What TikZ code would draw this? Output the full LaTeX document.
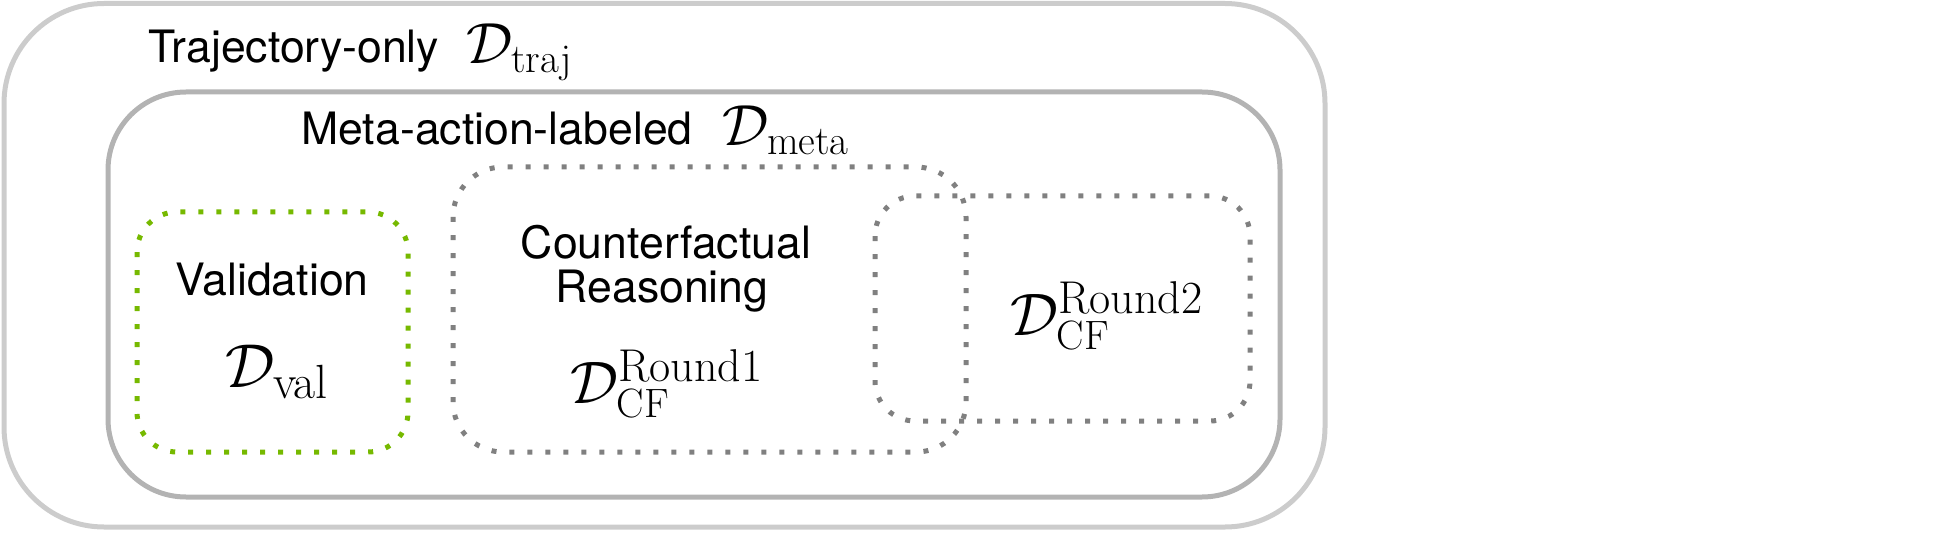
\documentclass[tikz,border=0pt]{standalone}
\usepackage{fix-cm}
\usepackage[no-math]{fontspec}
\newfontfamily\hel{TeX Gyre Heros}
\definecolor{outerc}{HTML}{CCCCCC}
\definecolor{metac}{HTML}{B3B3B3}
\definecolor{dotgray}{HTML}{808080}
\definecolor{dotgreen}{HTML}{76B900}
\newcommand\txtsz{\hel\fontsize{22.3}{22.3}\selectfont}
\newcommand\msz[1]{\fontsize{#1}{#1}\selectfont}
\tikzset{
  solidbox/.style={line width=2.5pt},
  dotbox/.style={line width=2.5pt, line cap=butt, dash pattern=on 2.5pt off 6.5pt},
  lbl/.style={inner sep=0pt, font=\txtsz},
  mth/.style={inner sep=0pt}
}
\begin{document}
\begin{tikzpicture}[x=0.5pt,y=-0.5pt]
\useasboundingbox (0,0) rectangle (1957,534);
% boxes
\draw[solidbox, outerc, rounded corners=50pt] (4,3.5) rectangle (1325,527);
\draw[solidbox, metac, rounded corners=39pt] (108,92) rectangle (1280,497);
\draw[dotbox, dotgreen, rounded corners=20pt] (137,212) rectangle (408,452);
\draw[dotbox, dotgray, rounded corners=25pt] (453,167) rectangle (966,452);
\draw[dotbox, dotgray, rounded corners=20pt] (875,196) rectangle (1250,421);
% labels
\node[lbl, anchor=base west] (traj) at (148,63) {Trajectory-only};
\node[mth, anchor=base west] (trajm) at (466,64) {\msz{29}$\mathcal{D}_{\mbox{\msz{20.5}traj}}$};
\node[lbl, anchor=base west] (meta) at (301,145) {Meta-action-labeled};
\node[mth, anchor=base west] (metam) at (722,146) {\msz{29}$\mathcal{D}_{\mbox{\msz{20.5}meta}}$};
\node[lbl, anchor=base] (val) at (272,295) {Validation};
\node[mth, anchor=base] (valm) at (277,387) {\msz{31}$\mathcal{D}_{\mbox{\msz{24}val}}$};
\node[lbl, anchor=base] (cfa) at (666,258) {Counterfactual};
\node[lbl, anchor=base] (cfb) at (662,302) {Reasoning};
\node[mth, anchor=base west] (cf1) at (570,403) {\msz{30}$\mathcal{D}^{\mbox{\msz{23}Round1}}_{\mbox{\msz{20.5}CF}}$};
\node[mth, anchor=base west] (cf2) at (1010,335) {\msz{30}$\mathcal{D}^{\mbox{\msz{23}Round2}}_{\mbox{\msz{20.5}CF}}$};
\end{tikzpicture}
\end{document}
